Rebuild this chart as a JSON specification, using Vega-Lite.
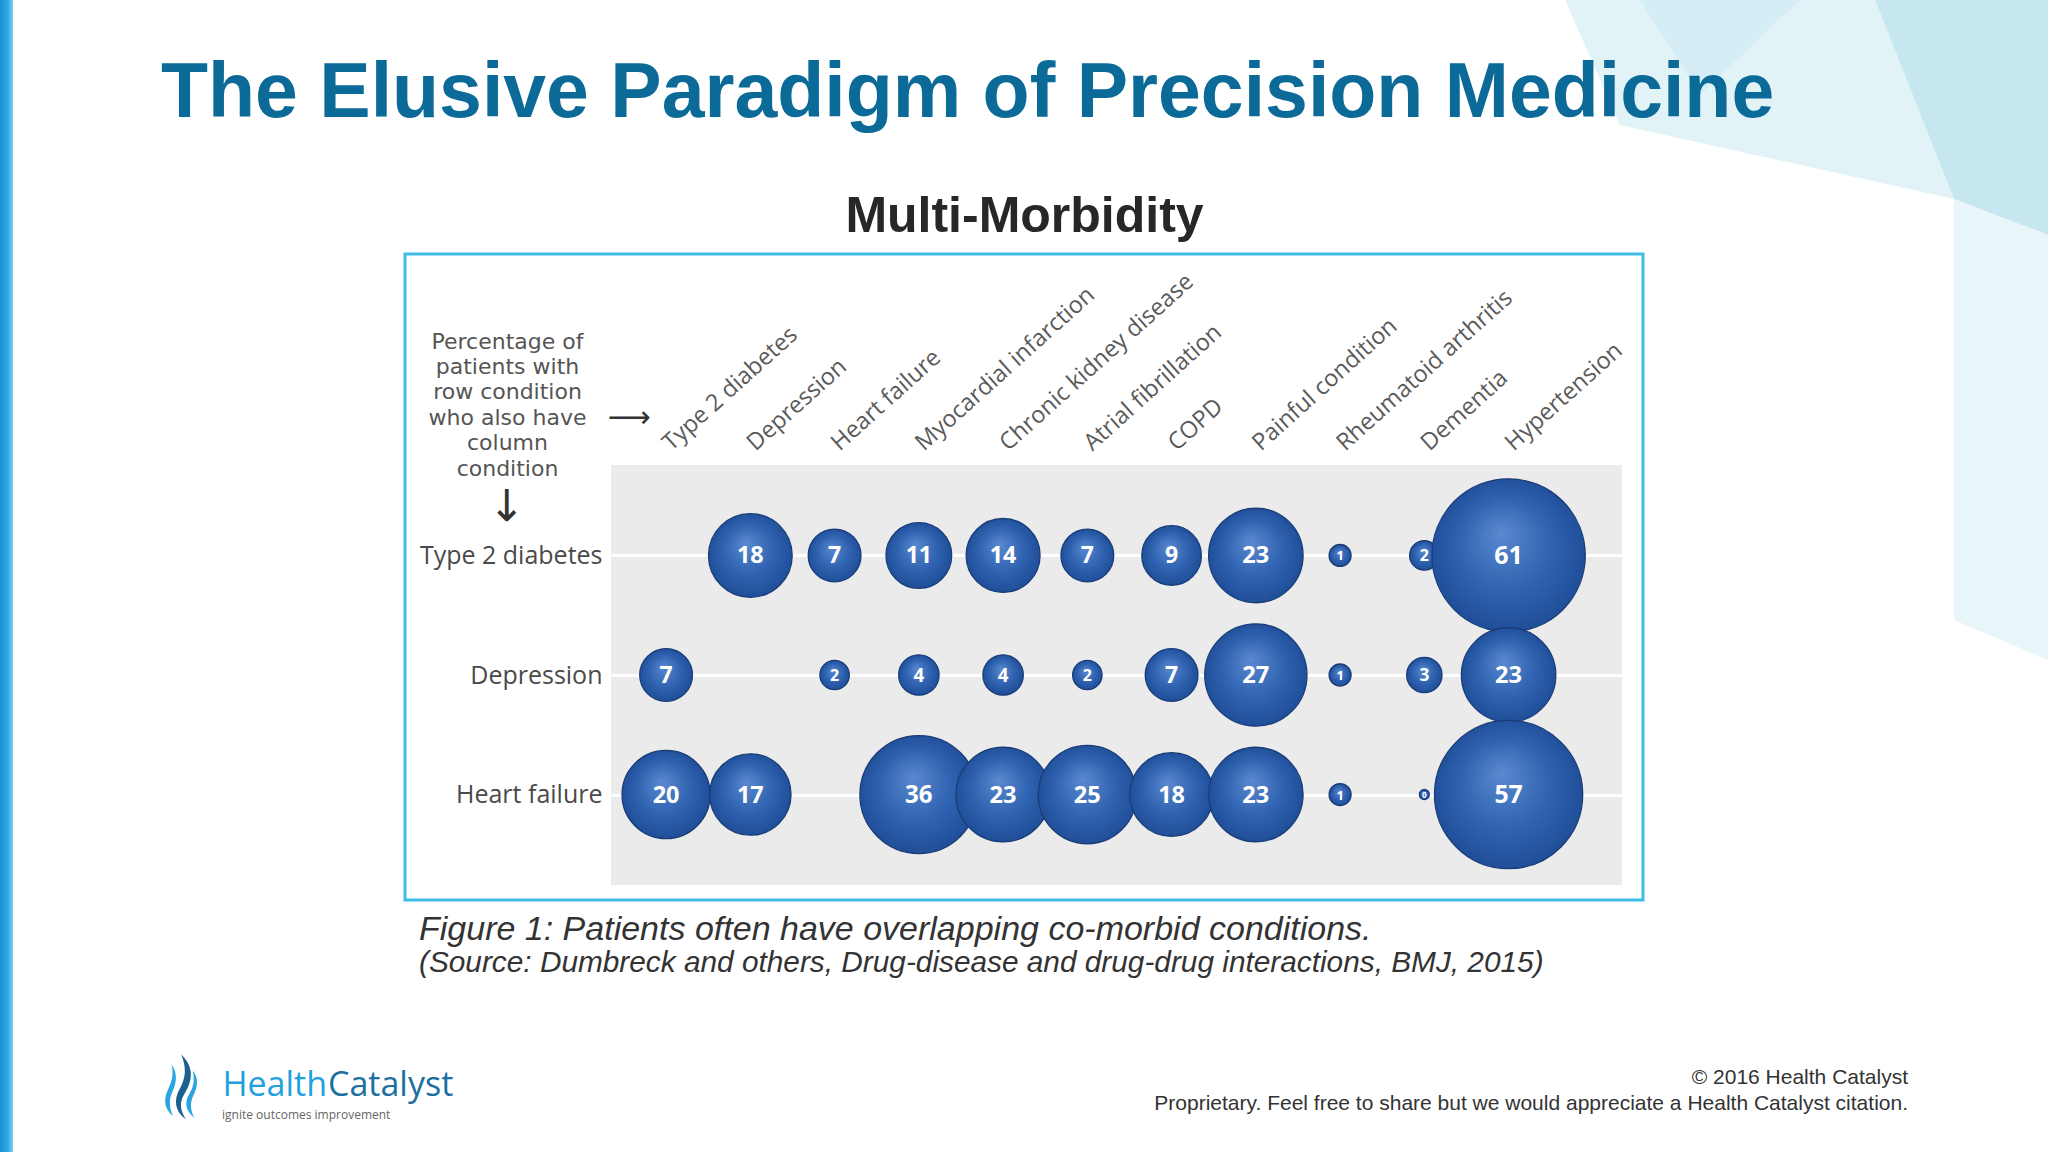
{
  "$schema": "https://vega.github.io/schema/vega-lite/v6.json",
  "width": 1011,
  "height": 420,
  "autosize": {"type": "none"},
  "padding": {"left": 611, "top": 465, "right": 426, "bottom": 267},
  "background": "white",
  "config": {"view": {"fill": "#ebebeb", "stroke": null}},
  "title": {
    "text": "The Elusive Paradigm of Precision Medicine",
    "anchor": "start",
    "frame": "group",
    "offset": 0,
    "dx": -450,
    "dy": 194,
    "baseline": "alphabetic",
    "font": "Liberation Sans",
    "fontSize": 77,
    "fontWeight": "bold",
    "color": "#0b6a98"
  },
  "datasets": {
    "cells": [
      {"row": "Type 2 diabetes", "col": "Depression", "pct": 18},
      {"row": "Type 2 diabetes", "col": "Heart failure", "pct": 7},
      {"row": "Type 2 diabetes", "col": "Myocardial infarction", "pct": 11},
      {"row": "Type 2 diabetes", "col": "Chronic kidney disease", "pct": 14},
      {"row": "Type 2 diabetes", "col": "Atrial fibrillation", "pct": 7},
      {"row": "Type 2 diabetes", "col": "COPD", "pct": 9},
      {"row": "Type 2 diabetes", "col": "Painful condition", "pct": 23},
      {"row": "Type 2 diabetes", "col": "Rheumatoid arthritis", "pct": 1},
      {"row": "Type 2 diabetes", "col": "Dementia", "pct": 2},
      {"row": "Depression", "col": "Type 2 diabetes", "pct": 7},
      {"row": "Depression", "col": "Heart failure", "pct": 2},
      {"row": "Depression", "col": "Myocardial infarction", "pct": 4},
      {"row": "Depression", "col": "Chronic kidney disease", "pct": 4},
      {"row": "Depression", "col": "Atrial fibrillation", "pct": 2},
      {"row": "Depression", "col": "COPD", "pct": 7},
      {"row": "Depression", "col": "Painful condition", "pct": 27},
      {"row": "Depression", "col": "Rheumatoid arthritis", "pct": 1},
      {"row": "Depression", "col": "Dementia", "pct": 3},
      {"row": "Heart failure", "col": "Type 2 diabetes", "pct": 20},
      {"row": "Heart failure", "col": "Depression", "pct": 17},
      {"row": "Heart failure", "col": "Myocardial infarction", "pct": 36},
      {"row": "Heart failure", "col": "Chronic kidney disease", "pct": 23},
      {"row": "Heart failure", "col": "Atrial fibrillation", "pct": 25},
      {"row": "Heart failure", "col": "COPD", "pct": 18},
      {"row": "Heart failure", "col": "Painful condition", "pct": 23},
      {"row": "Heart failure", "col": "Rheumatoid arthritis", "pct": 1},
      {"row": "Heart failure", "col": "Dementia", "pct": 0},
      {"row": "Type 2 diabetes", "col": "Hypertension", "pct": 61},
      {"row": "Depression", "col": "Hypertension", "pct": 23},
      {"row": "Heart failure", "col": "Hypertension", "pct": 57}
    ]
  },
  "resolve": {"scale": {"x": "independent", "y": "independent"}},
  "layer": [
    {
      "layer": [
        {
          "data": {"values": [{"part": "backdrop facet"}]},
          "mark": {"type": "point", "filled": true, "opacity": 1, "fill": "#e2f3f8", "strokeWidth": 0, "size": 151321,
                   "shape": "M -1 -0.5116 L 0.5938 -0.5116 L 1 0.5116 L -0.7172 0.1311 Z"},
          "encoding": {
            "x": {"datum": 1759.5, "type": "quantitative", "scale": {"domain": [611, 1622], "zero": false, "nice": false}, "axis": null},
            "y": {"datum": 99.5, "type": "quantitative", "scale": {"domain": [465, 885], "reverse": true, "zero": false, "nice": false}, "axis": null}
          }
        },
        {
          "data": {"values": [{"part": "backdrop facet"}]},
          "mark": {"type": "point", "filled": true, "opacity": 1, "fill": "#d5eef5", "strokeWidth": 0, "size": 25600,
                   "shape": "M -1 -0.5938 L 1 -0.5938 L -0.25 0.5938 Z"},
          "encoding": {
            "x": {"datum": 1720, "type": "quantitative", "axis": null},
            "y": {"datum": 47.5, "type": "quantitative", "axis": null}
          }
        },
        {
          "data": {"values": [{"part": "backdrop facet"}]},
          "mark": {"type": "point", "filled": true, "opacity": 1, "fill": "#c7e7f0", "strokeWidth": 0, "size": 55225,
                   "shape": "M -0.7362 -1 L 0.7362 -1 L 0.7362 1 L -0.0638 0.6936 Z"},
          "encoding": {
            "x": {"datum": 1961.5, "type": "quantitative", "axis": null},
            "y": {"datum": 117.5, "type": "quantitative", "axis": null}
          }
        },
        {
          "data": {"values": [{"part": "backdrop facet"}]},
          "mark": {"type": "point", "filled": true, "opacity": 1, "fill": "#e8f5f9", "strokeWidth": 0, "size": 212521,
                   "shape": "M -0.2039 -1 L 0.2039 -0.8438 L 0.2039 1 L -0.2039 0.8265 Z"},
          "encoding": {
            "x": {"datum": 2001, "type": "quantitative", "axis": null},
            "y": {"datum": 429.5, "type": "quantitative", "axis": null}
          }
        },
        {
          "data": {"values": [{"part": "left strip"}]},
          "mark": {
            "type": "rect",
            "fill": {
              "gradient": "linear", "x1": 0, "y1": 0, "x2": 1, "y2": 0,
              "stops": [{"offset": 0, "color": "#1b8fd8"}, {"offset": 0.6, "color": "#2ea9e4"}, {"offset": 1, "color": "#7fd0ec"}]
            }
          },
          "encoding": {
            "x": {"datum": 0, "type": "quantitative", "axis": null},
            "x2": {"datum": 13},
            "y": {"datum": 0, "type": "quantitative", "axis": null},
            "y2": {"datum": 1152}
          }
        },
        {
          "data": {"values": [{"part": "figure frame"}]},
          "mark": {"type": "rect", "fill": null, "stroke": "#3dbde6", "strokeWidth": 3},
          "encoding": {
            "x": {"datum": 405, "type": "quantitative", "axis": null},
            "x2": {"datum": 1643},
            "y": {"datum": 254, "type": "quantitative", "axis": null},
            "y2": {"datum": 900}
          }
        },
        {
          "data": {"values": [{"label": "⟶"}]},
          "mark": {"type": "text", "font": "DejaVu Sans", "fontSize": 30, "color": "#333333", "align": "center", "baseline": "middle"},
          "encoding": {
            "x": {"datum": 629, "type": "quantitative", "axis": null},
            "y": {"datum": 418, "type": "quantitative", "axis": null},
            "text": {"field": "label"}
          }
        },
        {
          "data": {"values": [{"label": "↓"}]},
          "mark": {"type": "text", "font": "DejaVu Sans", "fontSize": 44, "color": "#333333", "align": "center", "baseline": "middle"},
          "encoding": {
            "x": {"datum": 507, "type": "quantitative", "axis": null},
            "y": {"datum": 508, "type": "quantitative", "axis": null},
            "text": {"field": "label"}
          }
        },
        {
          "data": {"values": [{"label": "Figure 1: Patients often have overlapping co-morbid conditions."}]},
          "mark": {"type": "text", "font": "Liberation Sans", "fontSize": 34, "fontStyle": "italic", "color": "#333333", "align": "left", "baseline": "alphabetic"},
          "encoding": {
            "x": {"datum": 419, "type": "quantitative", "axis": null},
            "y": {"datum": 940, "type": "quantitative", "axis": null},
            "text": {"field": "label"}
          }
        },
        {
          "data": {"values": [{"label": "(Source: Dumbreck and others, Drug-disease and drug-drug interactions, BMJ, 2015)"}]},
          "mark": {"type": "text", "font": "Liberation Sans", "fontSize": 29.8, "fontStyle": "italic", "color": "#333333", "align": "left", "baseline": "alphabetic"},
          "encoding": {
            "x": {"datum": 419, "type": "quantitative", "axis": null},
            "y": {"datum": 972, "type": "quantitative", "axis": null},
            "text": {"field": "label"}
          }
        },
        {
          "data": {"values": [{"label": "© 2016 Health Catalyst"}]},
          "mark": {"type": "text", "font": "Liberation Sans", "fontSize": 21, "color": "#333333", "align": "right", "baseline": "alphabetic"},
          "encoding": {
            "x": {"datum": 1908, "type": "quantitative", "axis": null},
            "y": {"datum": 1084, "type": "quantitative", "axis": null},
            "text": {"field": "label"}
          }
        },
        {
          "data": {"values": [{"label": "Proprietary. Feel free to share but we would appreciate a Health Catalyst citation."}]},
          "mark": {"type": "text", "font": "Liberation Sans", "fontSize": 21, "color": "#333333", "align": "right", "baseline": "alphabetic"},
          "encoding": {
            "x": {"datum": 1908, "type": "quantitative", "axis": null},
            "y": {"datum": 1110, "type": "quantitative", "axis": null},
            "text": {"field": "label"}
          }
        },
        {
          "data": {"values": [{"part": "logo flame"}]},
          "mark": {"type": "point", "filled": true, "opacity": 1, "fill": "#2aa5e2", "strokeWidth": 0, "size": 4225,
                   "shape": "M -0.35 -0.7 C -0.15 -0.4 -0.2 -0.1 -0.35 0.2 C -0.45 0.45 -0.4 0.7 -0.3 0.9 C -0.6 0.65 -0.6 0.35 -0.45 0.05 C -0.3 -0.25 -0.3 -0.45 -0.35 -0.7 Z M 0.3 -0.5 C 0.5 -0.25 0.45 0 0.3 0.3 C 0.2 0.55 0.25 0.75 0.35 0.95 C 0.05 0.7 0.05 0.45 0.2 0.2 C 0.35 -0.05 0.35 -0.25 0.3 -0.5 Z"},
          "encoding": {
            "x": {"datum": 183, "type": "quantitative", "axis": null},
            "y": {"datum": 1087, "type": "quantitative", "axis": null}
          }
        },
        {
          "data": {"values": [{"part": "logo flame"}]},
          "mark": {"type": "point", "filled": true, "opacity": 1, "fill": "#1c5f91", "strokeWidth": 0, "size": 4225,
                   "shape": "M -0.05 -1 C 0.35 -0.6 0.3 -0.2 0.05 0.2 C -0.15 0.5 -0.05 0.8 0.1 1 C -0.25 0.75 -0.3 0.4 -0.1 0.05 C 0.1 -0.3 0.1 -0.6 -0.05 -1 Z"},
          "encoding": {
            "x": {"datum": 183, "type": "quantitative", "axis": null},
            "y": {"datum": 1087, "type": "quantitative", "axis": null}
          }
        },
        {
          "data": {"values": [{"label": "Health"}]},
          "mark": {"type": "text", "font": "Open Sans", "fontSize": 34, "color": "#1fa1de", "align": "right", "baseline": "alphabetic"},
          "encoding": {
            "x": {"datum": 327, "type": "quantitative", "axis": null},
            "y": {"datum": 1096, "type": "quantitative", "axis": null},
            "text": {"field": "label"}
          }
        },
        {
          "data": {"values": [{"label": "Catalyst"}]},
          "mark": {"type": "text", "font": "Open Sans", "fontSize": 34, "color": "#1c6f9f", "align": "left", "baseline": "alphabetic"},
          "encoding": {
            "x": {"datum": 328, "type": "quantitative", "axis": null},
            "y": {"datum": 1096, "type": "quantitative", "axis": null},
            "text": {"field": "label"}
          }
        },
        {
          "data": {"values": [{"label": "ignite outcomes improvement"}]},
          "mark": {"type": "text", "font": "Open Sans", "fontSize": 12, "color": "#666666", "align": "left", "baseline": "alphabetic"},
          "encoding": {
            "x": {"datum": 222, "type": "quantitative", "axis": null},
            "y": {"datum": 1119, "type": "quantitative", "axis": null},
            "text": {"field": "label"}
          }
        }
      ]
    },
    {
      "data": {"name": "cells"},
      "resolve": {"scale": {"size": "independent"}},
      "encoding": {
        "x": {
          "field": "col",
          "type": "nominal",
          "scale": {
            "type": "point",
            "domain": ["Type 2 diabetes", "Depression", "Heart failure", "Myocardial infarction", "Chronic kidney disease", "Atrial fibrillation", "COPD", "Painful condition", "Rheumatoid arthritis", "Dementia", "Hypertension"],
            "padding": 1.018,
            "align": 0.327
          },
          "axis": {
            "orient": "top",
            "labelAngle": -42,
            "labelAlign": "left",
            "labelBaseline": "middle",
            "labelPadding": 19,
            "labelFont": "Open Sans",
            "labelFontSize": 23.5,
            "labelColor": "#5a5a5a",
            "labelLimit": 400,
            "ticks": false,
            "domain": false,
            "grid": false,
            "labelOverlap": false,
            "title": "Multi-Morbidity",
            "titleX": 413,
            "titleY": -234,
            "titleAlign": "center",
            "titleBaseline": "alphabetic",
            "titleAngle": 0,
            "titleFont": "Liberation Sans",
            "titleFontSize": 50,
            "titleFontWeight": "bold",
            "titleColor": "#272727"
          }
        },
        "y": {
          "field": "row",
          "type": "nominal",
          "scale": {
            "type": "point",
            "domain": ["Type 2 diabetes", "Depression", "Heart failure"],
            "padding": 0.757
          },
          "axis": {
            "orient": "left",
            "labelPadding": 9,
            "labelFont": "Open Sans",
            "labelFontSize": 25,
            "labelColor": "#4a4a4a",
            "labelLimit": 400,
            "ticks": false,
            "domain": false,
            "grid": true,
            "gridColor": "#ffffff",
            "gridWidth": 3,
            "gridOpacity": 1,
            "title": ["Percentage of", "patients with", "row condition", "who also have", "column", "condition"],
            "titleAngle": 0,
            "titleAlign": "center",
            "titleBaseline": "alphabetic",
            "titleX": -104,
            "titleY": -117,
            "titleLineHeight": 25.4,
            "titleFont": "DejaVu Sans",
            "titleFontSize": 22,
            "titleFontWeight": "normal",
            "titleColor": "#555555"
          }
        }
      },
      "layer": [
        {
          "mark": {
            "type": "point",
            "shape": "circle",
            "filled": true,
            "opacity": 1,
            "fill": {
              "gradient": "radial",
              "x1": 0.45, "y1": 0.35, "r1": 0,
              "x2": 0.5, "y2": 0.5, "r2": 0.55,
              "stops": [
                {"offset": 0, "color": "#5a89cf"},
                {"offset": 0.55, "color": "#2f62b0"},
                {"offset": 1, "color": "#1d4b95"}
              ]
            },
            "stroke": "#1a3d78",
            "strokeWidth": 1.3
          },
          "encoding": {
            "size": {
              "field": "pct",
              "type": "quantitative",
              "scale": {"type": "linear", "domain": [0, 61], "range": [100, 23500], "zero": false},
              "legend": null
            }
          }
        },
        {
          "mark": {
            "type": "text",
            "color": "#ffffff",
            "font": "Open Sans",
            "fontWeight": "bold",
            "baseline": "middle",
            "align": "center",
            "dy": 1
          },
          "encoding": {
            "text": {"field": "pct", "type": "quantitative"},
            "size": {
              "field": "pct",
              "type": "quantitative",
              "scale": {"type": "linear", "domain": [0, 1, 2, 7, 61], "range": [8, 13, 16, 23, 25]},
              "legend": null
            }
          }
        }
      ]
    }
  ]
}
